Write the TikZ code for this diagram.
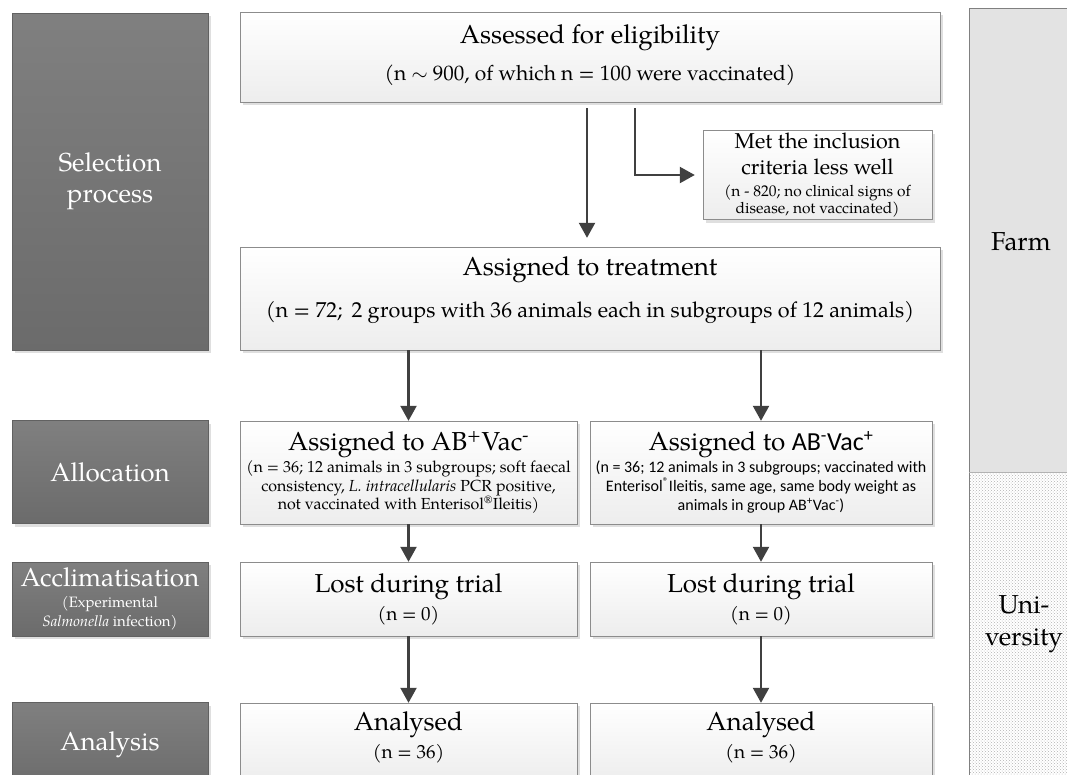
\documentclass[tikz,border=0pt]{standalone}
\usepackage{fontspec}
\setmainfont{TeX Gyre Pagella}
\newfontfamily\calib{Carlito}
\usetikzlibrary{arrows.meta,shadows,patterns}
\newcommand\ttl[1]{{\fontsize{26}{30}\selectfont #1}}
\newcommand\metl[1]{{\fontsize{21.5}{25}\selectfont #1}}
\begin{document}
\begin{tikzpicture}[x=1pt,y=-1pt,
  stage/.style={draw=black!62,top color=black!50,bottom color=black!58,text=white,align=center,inner sep=1pt,
    drop shadow={shadow xshift=3pt,shadow yshift=-3pt,fill=black!25}},
  stepbox/.style={draw=black!45,top color=white,bottom color=black!7,align=center,inner sep=1pt,
    drop shadow={shadow xshift=3pt,shadow yshift=-3pt,fill=black!25}},
  flow/.style={draw=black!75,line width=2.2pt,-{Triangle[length=15pt,width=16pt]}}]
  \useasboundingbox (0,0) rectangle (1067,774);
  \fill[black!11] (969,8) rectangle (1080,472);
  \fill[pattern=crosshatch dots,pattern color=black!30] (969,472) rectangle (1080,790);
  \draw[black!50] (1080,8) -- (969,8) -- (969,790);
  \draw[black!30] (969,472) -- (1080,472);
  \node[font=\fontsize{26}{32}\selectfont] (farm) at (1021,242) {Farm};
  \node[font=\fontsize{26}{32}\selectfont,align=center] (uni) at (1024,624) {Uni-\\versity};
  \node[stage,minimum width=196,minimum height=337,font=\fontsize{26}{31}\selectfont] (sel) at (110,181.5) {Selection\\process};
  \node[stage,minimum width=196,minimum height=103,font=\fontsize{26}{30}\selectfont] (alloc) at (110,472) {Allocation};
  \node[stage,minimum width=196,minimum height=74,font=\fontsize{15}{19}\selectfont] (accl) at (110,599) {\ttl{Acclimatisation}\\[2pt](Experimental\\\textit{Salmonella} infection)};
  \node[stage,minimum width=196,minimum height=87,font=\fontsize{26}{30}\selectfont] (anal) at (110,746) {Analysis\rule[-10pt]{0pt}{0pt}};
  \node[stepbox,minimum width=700,minimum height=90,font=\fontsize{21}{25}\selectfont] (assess) at (590,57) {\ttl{Assessed for eligibility}\\[12pt](n $\sim$ 900, of which n = 100 were vaccinated)\rule[-8pt]{0pt}{0pt}};
  \node[stepbox,minimum width=229,minimum height=89,font=\fontsize{15.5}{15.5}\selectfont] (met) at (817.5,175) {\metl{Met the inclusion}\\[9pt]\metl{criteria less well}\\[6pt](n - 820; no clinical signs of\\disease, not vaccinated)};
  \node[stepbox,minimum width=700,minimum height=103,font=\fontsize{21.6}{25}\selectfont] (treat) at (590,298.5) {\ttl{Assigned to treatment}\\[17pt](n = 72;\, 2 groups with 36 animals each in subgroups of 12 animals)\rule[-22pt]{0pt}{0pt}};
  \node[stepbox,minimum width=337,minimum height=103,font=\fontsize{16}{18.7}\selectfont] (grpA) at (408.5,472.5) {\ttl{Assigned to AB\textsuperscript{+}Vac\textsuperscript{-}}\\[2pt](n = 36; 12 animals in 3 subgroups; soft faecal\\consistency, \textit{L. intracellularis} PCR positive,\\not vaccinated with Enterisol\textsuperscript{®}Ileitis)};
  \node[stepbox,minimum width=342,minimum height=103,font=\calib\fontsize{16}{18.7}\selectfont] (grpB) at (761,472.5) {\ttl{\rmfamily Assigned to {\calib AB\textsuperscript{-}Vac\textsuperscript{+}}}\\[2pt](n = 36; 12 animals in 3 subgroups; vaccinated with\\Enterisol\textsuperscript{®}Ileitis, same age, same body weight as\\animals in group AB\textsuperscript{+}Vac\textsuperscript{-})};
  \node[stepbox,minimum width=337,minimum height=74,font=\fontsize{19}{24}\selectfont] (lostA) at (408.5,599) {\ttl{Lost during trial}\\[4pt](n = 0)};
  \node[stepbox,minimum width=342,minimum height=74,font=\fontsize{19}{24}\selectfont] (lostB) at (761,599) {\ttl{Lost during trial}\\[4pt](n = 0)};
  \node[stepbox,minimum width=337,minimum height=78,font=\fontsize{19}{24}\selectfont] (anaA) at (408.5,742) {\ttl{Analysed}\\[4pt](n = 36)\rule[-14pt]{0pt}{0pt}};
  \node[stepbox,minimum width=342,minimum height=78,font=\fontsize{19}{24}\selectfont] (anaB) at (761,742) {\ttl{Analysed}\\[4pt](n = 36)\rule[-14pt]{0pt}{0pt}};
  \draw[flow,shorten <=6pt,shorten >=9pt] ([xshift=-3pt]assess.south) -- ([xshift=-3pt]treat.north);
  \draw[flow,shorten <=6pt,shorten >=8pt] ([xshift=45pt]assess.south) |- (met.west);
  \draw[flow] (treat.south -| grpA.north) -- (grpA.north);
  \draw[flow] (treat.south -| grpB.north) -- (grpB.north);
  \draw[flow] (grpA) -- (lostA);
  \draw[flow] (grpB) -- (lostB);
  \draw[flow] (lostA) -- (anaA);
  \draw[flow] (lostB) -- (anaB);
\end{tikzpicture}
\end{document}
